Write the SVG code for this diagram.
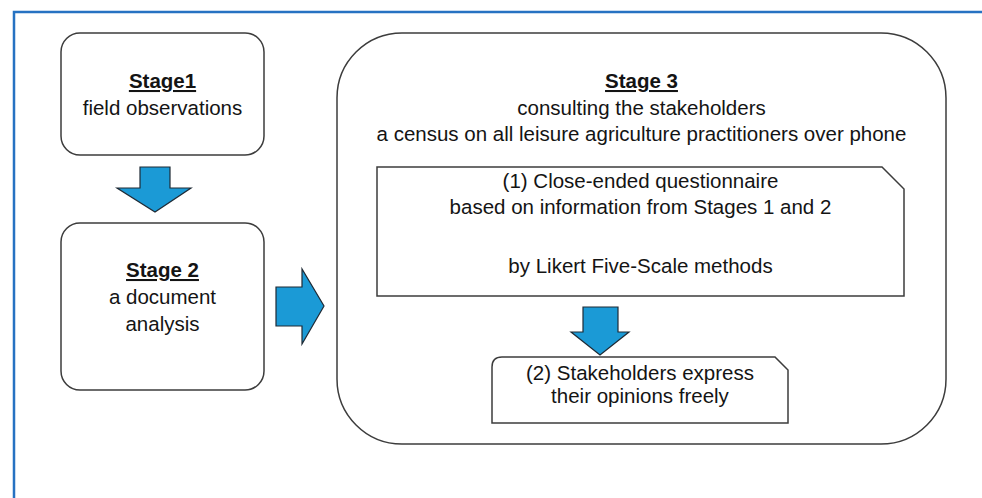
<svg xmlns="http://www.w3.org/2000/svg" width="982" height="498" viewBox="0 0 982 498">
<style>
.box{fill:#fff;stroke:#3c3c3c;stroke-width:1.5}
.arrow{fill:#1b9ad6;stroke:#1e2a35;stroke-width:1.2;stroke-linejoin:miter}
text{font-family:"Liberation Sans",Arial,sans-serif;font-size:20.5px;fill:#141414;text-anchor:middle}
.title{font-weight:bold;text-decoration:underline}
</style>
<rect width="982" height="498" fill="#fff"/>
<path d="M14,498 V12 H982" fill="none" stroke="#2672c2" stroke-width="2.5"/>
<g id="stage1">
<rect class="box" x="61" y="33" width="203" height="122" rx="19"/>
<text class="title" x="162.5" y="88">Stage1</text>
<text x="162.5" y="115">field observations</text>
</g>
<g id="stage2">
<rect class="box" x="61" y="223" width="203" height="167" rx="19"/>
<text class="title" x="162.5" y="277">Stage 2</text>
<text x="162.5" y="304">a document</text>
<text x="162.5" y="331">analysis</text>
</g>
<g id="stage3">
<rect class="box" x="337" y="33" width="609" height="411" rx="65"/>
<text class="title" x="641.5" y="88">Stage 3</text>
<text x="641.5" y="115">consulting the stakeholders</text>
<text x="641.5" y="141">a census on all leisure agriculture practitioners over phone</text>
</g>
<g id="questionnaire">
<path class="box" d="M377,167 H882 L904,189 V296 H377 Z"/>
<text x="640.5" y="188">(1) Close-ended questionnaire</text>
<text x="640.5" y="214">based on information from Stages 1 and 2</text>
<text x="640.5" y="273">by Likert Five-Scale methods</text>
</g>
<g id="opinions">
<path class="box" d="M502,357 H775 L788,370 V423 H492 V367 Q492,357 502,357 Z"/>
<text x="640" y="380">(2) Stakeholders express</text>
<text x="640" y="403">their opinions freely</text>
</g>
<g id="connectors">
<path class="arrow" d="M140,167 H170 V188 H191 L155,212 L117,188 H140 Z"/>
<path class="arrow" d="M276,287 H302 V269 L324,306 L302,344 V326 H276 Z"/>
<path class="arrow" d="M583,307 H618 V332 H629 L600,355 L571,332 H583 Z"/>
</g>
</svg>
